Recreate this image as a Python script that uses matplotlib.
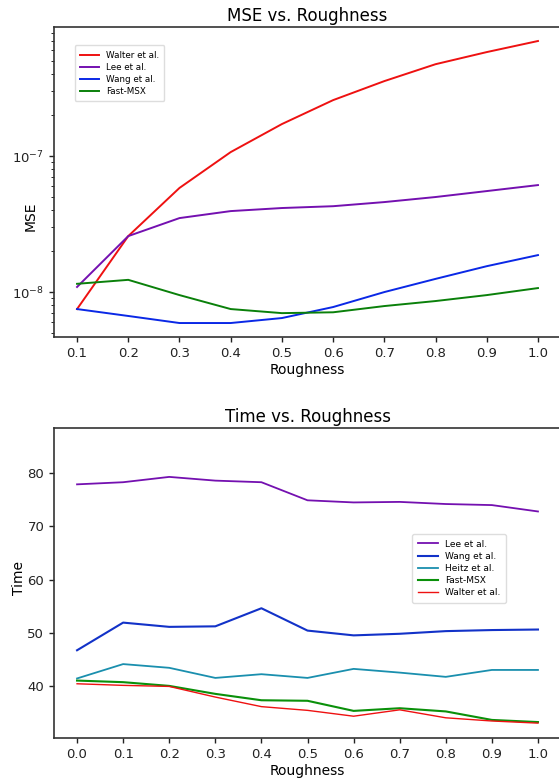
import matplotlib
matplotlib.use("Agg")
import matplotlib.pyplot as plt

plt.rcParams['font.family'] = ['DejaVu Sans']

# ---- MSE data ----
rough_mse = [0.1, 0.2, 0.3, 0.4, 0.5, 0.6, 0.7, 0.8, 0.9, 1.0]
mse_walter = [7.5e-9, 2.58e-8, 5.83e-8, 1.07e-7, 1.72e-7, 2.58e-7, 3.56e-7, 4.74e-7, 5.82e-7, 7.02e-7]
mse_lee = [1.09e-8, 2.58e-8, 3.50e-8, 3.94e-8, 4.15e-8, 4.28e-8, 4.59e-8, 5.0e-8, 5.53e-8, 6.12e-8]
mse_wang = [7.5e-9, 6.67e-9, 5.92e-9, 5.92e-9, 6.44e-9, 7.76e-9, 1.0e-8, 1.25e-8, 1.55e-8, 1.87e-8]
mse_fast = [1.15e-8, 1.23e-8, 9.5e-9, 7.5e-9, 7.0e-9, 7.1e-9, 7.89e-9, 8.59e-9, 9.5e-9, 1.07e-8]

# ---- Time data ----
rough_time = [0.0, 0.1, 0.2, 0.3, 0.4, 0.5, 0.6, 0.7, 0.8, 0.9, 1.0]
time_lee = [77.9, 78.3, 79.3, 78.6, 78.3, 74.9, 74.5, 74.6, 74.2, 74.0, 72.8]
time_wang = [46.7, 51.9, 51.1, 51.2, 54.6, 50.4, 49.5, 49.8, 50.3, 50.5, 50.6]
time_heitz = [41.4, 44.1, 43.4, 41.5, 42.2, 41.5, 43.2, 42.5, 41.7, 43.0, 43.0]
time_fast = [41.0, 40.7, 40.0, 38.5, 37.3, 37.2, 35.3, 35.8, 35.2, 33.6, 33.2]
time_walter = [40.4, 40.1, 39.9, 37.9, 36.1, 35.4, 34.3, 35.5, 34.0, 33.4, 33.0]

fig = plt.figure(figsize=(5.59, 7.78), dpi=100)
ax1 = fig.add_axes([0.0966, 0.5668, 0.907, 0.3985])
ax2 = fig.add_axes([0.0966, 0.0514, 0.907, 0.3985])

RED = '#ee1111'
PURPLE = '#7410b0'
BLUE1 = '#0a28e6'
BLUE2 = '#1232c8'
TEAL = '#1a8fae'
GREEN1 = '#0a800a'
GREEN2 = '#0a900a'

ax1.plot(rough_mse, mse_walter, color=RED, lw=1.4, label='Walter et al.')
ax1.plot(rough_mse, mse_lee, color=PURPLE, lw=1.4, label='Lee et al.')
ax1.plot(rough_mse, mse_wang, color=BLUE1, lw=1.4, label='Wang et al.')
ax1.plot(rough_mse, mse_fast, color=GREEN1, lw=1.4, label='Fast-MSX')
ax1.set_yscale('log')
ax1.set_xlim(0.055, 1.045)
ax1.set_ylim(4.67e-9, 8.9e-7)
ax1.set_xticks(rough_mse)
ax1.set_xticklabels([f'{v:.1f}' for v in rough_mse])
ax1.set_title('MSE vs. Roughness', fontsize=12, pad=4)
ax1.set_xlabel('Roughness', fontsize=10, labelpad=2)
ax1.set_ylabel('MSE', fontsize=10)
ax1.yaxis.set_label_coords(-0.032, 0.39)
leg1 = ax1.legend(loc='upper left', bbox_to_anchor=(0.032, 0.955), fontsize=6.3,
                  handlelength=2.2, borderpad=0.6, labelspacing=0.35, framealpha=1,
                  edgecolor='#dddddd', fancybox=True)

ax2.plot(rough_time, time_lee, color=PURPLE, lw=1.3, label='Lee et al.')
ax2.plot(rough_time, time_wang, color=BLUE2, lw=1.5, label='Wang et al.')
ax2.plot(rough_time, time_heitz, color=TEAL, lw=1.3, label='Heitz et al.')
ax2.plot(rough_time, time_fast, color=GREEN2, lw=1.5, label='Fast-MSX')
ax2.plot(rough_time, time_walter, color=RED, lw=1.0, label='Walter et al.')
ax2.set_xlim(-0.05, 1.05)
ax2.set_ylim(30.2, 88.5)
ax2.set_xticks(rough_time)
ax2.set_xticklabels([f'{v:.1f}' for v in rough_time])
ax2.set_yticks([40, 50, 60, 70, 80])
ax2.set_title('Time vs. Roughness', fontsize=12, pad=4)
ax2.set_xlabel('Roughness', fontsize=10, labelpad=2)
ax2.set_ylabel('Time', fontsize=10)
ax2.yaxis.set_label_coords(-0.055, 0.516)
leg2 = ax2.legend(loc='upper left', bbox_to_anchor=(0.698, 0.672), fontsize=6.5,
                  handlelength=2.2, borderpad=0.6, labelspacing=0.35, framealpha=1,
                  edgecolor='#dddddd', fancybox=True)

for ax in (ax1, ax2):
    for s in ax.spines.values():
        s.set_linewidth(1.2)
        s.set_color('#333333')
    ax.tick_params(labelsize=9.5, colors='#222222', width=1.0)

fig.savefig('out.png', dpi=100)
